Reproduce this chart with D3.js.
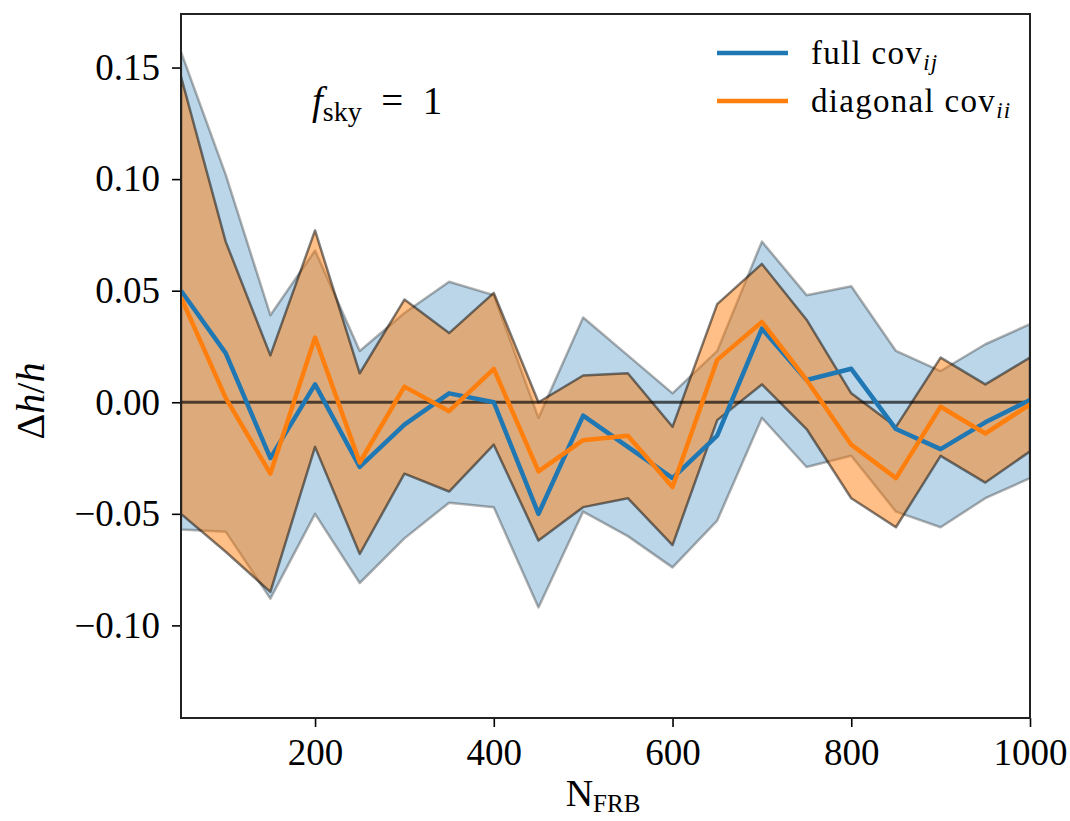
<!DOCTYPE html>
<html>
<head>
<meta charset="utf-8">
<script src="https://cdn.jsdelivr.net/npm/d3@7"></script>
<style>
  body { margin: 0; background: #fff; }
  text { font-family: "Liberation Serif", "DejaVu Serif", serif; fill: #000; }
</style>
</head>
<body>
<div id="chart"></div>
<script>
// N_FRB sample sizes
const nFrb = [50, 100, 150, 200, 250, 300, 350, 400, 450, 500,
  550, 600, 650, 700, 750, 800, 850, 900, 950, 1000];

// full covariance
const fullMean = [0.050, 0.022, -0.025, 0.008, -0.029, -0.010, 0.004, 0.000, -0.050, -0.006,
  -0.020, -0.034, -0.015, 0.033, 0.010, 0.015, -0.012, -0.021, -0.009, 0.001];
const fullUpper = [0.157, 0.102, 0.039, 0.068, 0.023, 0.040, 0.054, 0.048, -0.007, 0.038,
  0.021, 0.004, 0.023, 0.072, 0.048, 0.052, 0.023, 0.014, 0.026, 0.035];
const fullLower = [-0.057, -0.058, -0.088, -0.050, -0.081, -0.061, -0.045, -0.047, -0.092, -0.049,
  -0.060, -0.074, -0.053, -0.007, -0.029, -0.024, -0.049, -0.056, -0.043, -0.034];

// diagonal covariance
const diagMean = [0.047, 0.002, -0.032, 0.029, -0.027, 0.007, -0.004, 0.015, -0.031, -0.017,
  -0.015, -0.038, 0.019, 0.036, 0.010, -0.019, -0.034, -0.002, -0.014, -0.001];
const diagUpper = [0.146, 0.072, 0.021, 0.077, 0.013, 0.046, 0.031, 0.049, 0.000, 0.012,
  0.013, -0.011, 0.044, 0.062, 0.037, 0.004, -0.011, 0.020, 0.008, 0.020];
const diagLower = [-0.050, -0.067, -0.085, -0.020, -0.068, -0.032, -0.040, -0.019, -0.062, -0.047,
  -0.043, -0.064, -0.008, 0.008, -0.012, -0.043, -0.056, -0.024, -0.036, -0.022];

const xTicks = [200, 400, 600, 800, 1000];
const yTicks = [-0.10, -0.05, 0.00, 0.05, 0.10, 0.15];

const width = 1070;
const height = 821;
const margin = {top: 14, right: 40, bottom: 103, left: 181};

const svg = d3.select("#chart").append("svg")
  .attr("width", width)
  .attr("height", height);

const x = d3.scaleLinear()
  .domain([50, 1000])
  .range([margin.left, width - margin.right]);

const y = d3.scaleLinear()
  .domain([-0.1415, 0.174])
  .range([height - margin.bottom, margin.top]);

svg.append("clipPath").attr("id", "plot-clip")
  .append("rect")
  .attr("x", margin.left)
  .attr("y", margin.top)
  .attr("width", x.range()[1] - x.range()[0])
  .attr("height", y.range()[0] - y.range()[1]);

const plot = svg.append("g").attr("clip-path", "url(#plot-clip)");

const band = (upper, lower) => d3.area()
  .x((d, i) => x(nFrb[i]))
  .y0((d, i) => y(lower[i]))
  .y1((d, i) => y(upper[i]))(nFrb);

const meanLine = (vals) => d3.line()
  .x((d, i) => x(nFrb[i]))
  .y((d) => y(d))(vals);

// bands
plot.append("path")
  .attr("d", band(fullUpper, fullLower))
  .attr("fill", "#1f77b4")
  .attr("fill-opacity", 0.3)
  .attr("stroke", "rgba(0,0,0,0.3)")
  .attr("stroke-width", 2.5)
  .attr("stroke-linejoin", "round");

plot.append("path")
  .attr("d", band(diagUpper, diagLower))
  .attr("fill", "#ff7f0e")
  .attr("fill-opacity", 0.5)
  .attr("stroke", "rgba(0,0,0,0.5)")
  .attr("stroke-width", 2.5)
  .attr("stroke-linejoin", "round");

// zero line
plot.append("line")
  .attr("x1", x.range()[0])
  .attr("x2", x.range()[1])
  .attr("y1", y(0))
  .attr("y2", y(0))
  .attr("stroke", "rgba(0,0,0,0.65)")
  .attr("stroke-width", 3);

plot.append("path")
  .attr("d", meanLine(fullMean))
  .attr("fill", "none")
  .attr("stroke", "#1f77b4")
  .attr("stroke-width", 4.5)
  .attr("stroke-linejoin", "round");

plot.append("path")
  .attr("d", meanLine(diagMean))
  .attr("fill", "none")
  .attr("stroke", "#ff7f0e")
  .attr("stroke-width", 4.5)
  .attr("stroke-linejoin", "round");

// axes
const fmtY = (d) => d3.format(".2f")(d).replace("-", "\u2212");

const xAxis = svg.append("g")
  .attr("transform", `translate(0, ${y.range()[0]})`)
  .call(d3.axisBottom(x).tickValues(xTicks).tickSize(9).tickPadding(12).tickFormat(d3.format("d")));

const yAxis = svg.append("g")
  .attr("transform", `translate(${margin.left}, 0)`)
  .call(d3.axisLeft(y).tickValues(yTicks).tickSize(9).tickPadding(12).tickFormat(fmtY));

[xAxis, yAxis].forEach((g) => {
  g.select(".domain").remove();
  g.selectAll(".tick line").attr("stroke", "#000").attr("stroke-width", 1.6);
  g.selectAll(".tick text")
    .style("font-family", "'Liberation Serif', 'DejaVu Serif', serif")
    .style("font-size", "37px")
    .attr("fill", "#000");
});

// frame
svg.append("rect")
  .attr("x", x.range()[0])
  .attr("y", y.range()[1])
  .attr("width", x.range()[1] - x.range()[0])
  .attr("height", y.range()[0] - y.range()[1])
  .attr("fill", "none")
  .attr("stroke", "#222")
  .attr("stroke-width", 2);

// axis labels
const xl = svg.append("text")
  .attr("x", 603)
  .attr("y", 806)
  .attr("text-anchor", "middle")
  .style("font-size", "38px");
xl.append("tspan").text("N");
xl.append("tspan").attr("dy", 6).style("font-size", "25px").text("FRB");

const yl = svg.append("text")
  .attr("transform", "translate(44, 401) rotate(-90)")
  .attr("text-anchor", "middle")
  .style("font-size", "40px");
yl.append("tspan").text("\u0394");
yl.append("tspan").style("font-style", "italic").text("h");
yl.append("tspan").text("/");
yl.append("tspan").style("font-style", "italic").text("h");

// f_sky annotation
const ft = svg.append("text")
  .attr("x", 312)
  .attr("y", 114)
  .style("font-size", "39px");
ft.append("tspan").style("font-style", "italic").text("f");
ft.append("tspan").attr("dy", 7).style("font-size", "28px").text("sky");
ft.append("tspan").attr("dy", -7).text("\u2002=\u20021");

// legend
const legendItems = [
  {color: "#1f77b4", main: "full cov", sub: "ij", y: 53},
  {color: "#ff7f0e", main: "diagonal cov", sub: "ii", y: 101}
];

const legend = svg.append("g");
legendItems.forEach((d) => {
  legend.append("line")
    .attr("x1", 717).attr("x2", 788)
    .attr("y1", d.y).attr("y2", d.y)
    .attr("stroke", d.color)
    .attr("stroke-width", 4.5);
  const t = legend.append("text")
    .attr("x", 811)
    .attr("y", d.y + 11)
    .style("font-size", "33px")
    .style("letter-spacing", "1.3px");
  t.append("tspan").text(d.main);
  t.append("tspan").attr("dy", 6).style("font-size", "23px").style("font-style", "italic").text(d.sub);
});
</script>
</body>
</html>
